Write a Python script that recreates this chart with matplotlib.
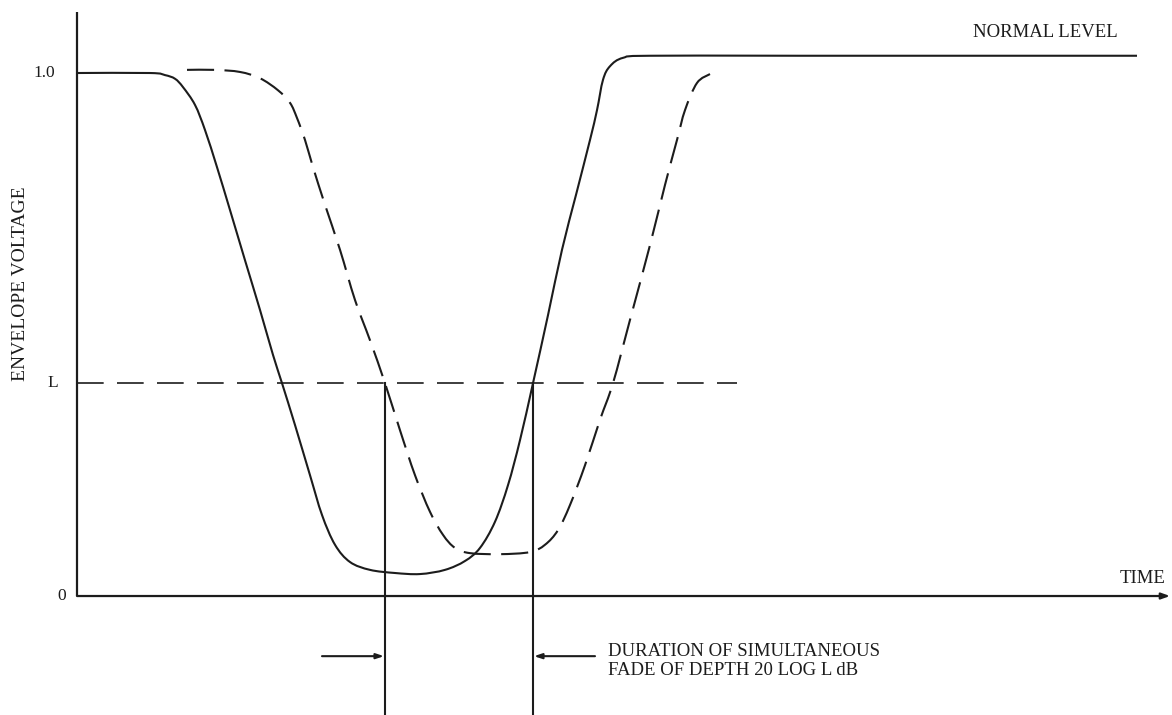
import matplotlib
matplotlib.use("Agg")
import matplotlib.pyplot as plt
from matplotlib.path import Path
from matplotlib.patches import PathPatch

plt.rcParams['font.family'] = ['Liberation Serif', 'DejaVu Serif']

# Envelope of the first path (solid): time, voltage
t_a = [0.00, 0.73, 0.88, 0.98, 1.06, 1.18, 1.28, 1.40, 1.53, 1.68, 1.83, 1.96,
       2.05, 2.18, 2.33, 2.45, 2.58, 2.73, 2.93, 3.18, 3.43, 3.68, 3.88, 4.03,
       4.18, 4.31, 4.43, 4.56, 4.71, 4.85, 4.99, 5.13, 5.20, 5.26, 5.33, 5.46,
       5.73, 7.23, 10.60]
v_a = [1.000, 1.000, 0.996, 0.989, 0.973, 0.939, 0.891, 0.820, 0.738, 0.642,
       0.547, 0.461, 0.407, 0.327, 0.231, 0.155, 0.098, 0.065, 0.050, 0.044,
       0.042, 0.050, 0.067, 0.092, 0.142, 0.212, 0.298, 0.407, 0.537, 0.662,
       0.767, 0.872, 0.929, 0.987, 1.013, 1.029, 1.033, 1.033, 1.033]

# Envelope of the second path (dashed): time, voltage
t_b = [1.10, 1.38, 1.63, 1.83, 2.01, 2.13, 2.20, 2.28, 2.36, 2.48, 2.63, 2.78,
       2.93, 3.08, 3.23, 3.38, 3.53, 3.66, 3.78, 3.93, 4.23, 4.53, 4.68, 4.81,
       4.93, 5.08, 5.23, 5.36, 5.53, 5.73, 5.88, 6.00, 6.08, 6.20, 6.33]
v_b = [1.006, 1.006, 1.002, 0.990, 0.967, 0.943, 0.914, 0.872, 0.820, 0.748,
       0.662, 0.566, 0.489, 0.407, 0.317, 0.231, 0.161, 0.117, 0.092, 0.082,
       0.080, 0.084, 0.098, 0.126, 0.174, 0.250, 0.337, 0.407, 0.528, 0.671,
       0.786, 0.872, 0.929, 0.981, 0.998]

level_L = 0.407          # fade threshold L
level_end = 6.60         # end of the dashed threshold line
fade_window = [3.08, 4.56]  # simultaneous fade: both envelopes below L
t_axis_end = 10.93
v_axis_top = 1.117

y_ticks = [1.0, level_L, 0.0]
y_tick_labels = ["1.0", "L", "0"]

ink = "#1c1c1c"


def smooth_path(xs, ys):
    """Cubic Bezier path through the given points (Catmull-Rom tangents)."""
    pts = list(zip(xs, ys))
    verts = [pts[0]]
    codes = [Path.MOVETO]
    n = len(pts)
    for i in range(n - 1):
        p0 = pts[i - 1] if i > 0 else pts[i]
        p1 = pts[i]
        p2 = pts[i + 1]
        p3 = pts[i + 2] if i + 2 < n else pts[i + 1]
        c1 = (p1[0] + (p2[0] - p0[0]) / 6.0, p1[1] + (p2[1] - p0[1]) / 6.0)
        c2 = (p2[0] - (p3[0] - p1[0]) / 6.0, p2[1] - (p3[1] - p1[1]) / 6.0)
        verts += [c1, c2, p2]
        codes += [Path.CURVE4] * 3
    return Path(verts, codes)


fig = plt.figure(figsize=(11.72, 7.15), dpi=100)
ax = fig.add_axes([0, 0, 1, 1])
ax.set_xlim(-0.77, 10.95)
ax.set_ylim(-0.2275, 1.1396)
ax.axis("off")

# axes drawn as plain lines, time axis with arrow head
ax.plot([0, 0], [0, v_axis_top], color=ink, lw=1.6, solid_capstyle="butt")
ax.annotate("", xy=(t_axis_end, 0), xytext=(0, 0),
            arrowprops=dict(arrowstyle="-|>,head_length=0.5,head_width=0.18",
                            color=ink, lw=1.6, shrinkA=0, shrinkB=0))

# envelopes
ax.add_patch(PathPatch(smooth_path(t_a, v_a), facecolor="none",
                       edgecolor=ink, lw=1.5))
ax.add_patch(PathPatch(smooth_path(t_b, v_b), facecolor="none",
                       edgecolor=ink, lw=1.5, linestyle=(0, (13, 5))))

# threshold L
ax.plot([0, level_end], [level_L, level_L], color=ink, lw=1.2,
        linestyle=(0, (16, 8)))

# vertical markers of the fade window
ybot = ax.get_ylim()[0]
for tx in fade_window:
    ax.plot([tx, tx], [level_L, ybot], color=ink, lw=1.5)

# duration arrows
y_arr = -0.115
ax.annotate("", xy=(fade_window[0] - 0.01, y_arr), xytext=(2.45, y_arr),
            arrowprops=dict(arrowstyle="-|>,head_length=0.45,head_width=0.15",
                            color=ink, lw=1.5, shrinkA=0, shrinkB=0))
ax.annotate("", xy=(fade_window[1] + 0.01, y_arr), xytext=(5.18, y_arr),
            arrowprops=dict(arrowstyle="-|>,head_length=0.45,head_width=0.15",
                            color=ink, lw=1.5, shrinkA=0, shrinkB=0))

ax.text(5.31, -0.125, "DURATION OF SIMULTANEOUS\nFADE OF DEPTH 20 LOG L dB",
        ha="left", va="center", fontsize=13.5, color=ink, linespacing=1.15)

ax.text(8.96, 1.078, "NORMAL LEVEL", ha="left", va="center",
        fontsize=13.5, color=ink)
ax.text(10.43, 0.034, "TIME", ha="left", va="center", fontsize=13.5, color=ink)

ax.text(-0.56, 0.598, "ENVELOPE VOLTAGE", rotation=90, ha="center",
        va="center", fontsize=14, color=ink)

tick_x = [-0.22, -0.24, -0.15]
tick_ha = ["right", "center", "center"]
for tx, ty, lab, h in zip(tick_x, y_ticks, y_tick_labels, tick_ha):
    ax.text(tx, ty, lab, ha=h, va="center", fontsize=12.5, color=ink)

fig.savefig("out.png", dpi=100, facecolor="white")
